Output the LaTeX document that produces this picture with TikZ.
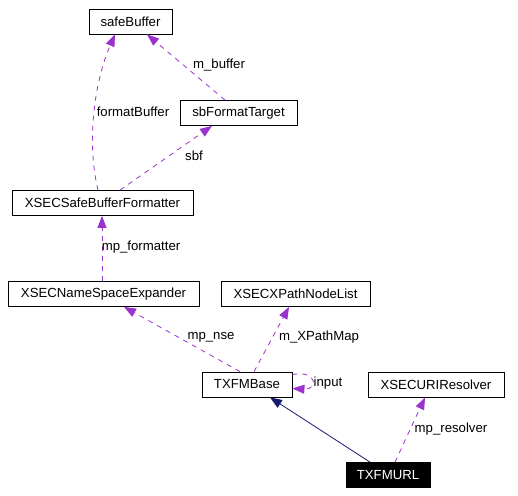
\documentclass[tikz,border=0pt]{standalone}
\usepackage{fontspec}
\setmainfont{Liberation Sans}
\usetikzlibrary{arrows.meta}
\definecolor{P}{RGB}{154, 50, 205}
\definecolor{N}{RGB}{25, 25, 112}

\tikzset{
  clase/.style={draw, line width=0.8pt, inner sep=0pt, minimum height=25pt,
    font=\fontsize{13.2}{15}\selectfont},
  actual/.style={clase, fill=black, text=white},
  uso/.style={draw=P, line width=0.8pt, dash pattern=on 5pt off 5pt,
    -{Triangle[length=12pt, width=9pt, fill=P]}},
  hereda/.style={draw=N, line width=0.8pt,
    -{Triangle[length=12pt, width=9pt, fill=N]}},
  lbl/.style={inner sep=0pt, font=\fontsize{13.2}{15}\selectfont}
}

\begin{document}
\begin{tikzpicture}[x=1pt, y=-1pt]
   	\useasboundingbox (0,0) rectangle (518,495);

	%Clases
   	\node[clase, minimum width=83pt] (safe) at (130.5,21.5) {safeBuffer};
   	\node[clase, minimum width=117pt] (sbft) at (238.5,113) {sbFormatTarget};
   	\node[clase, minimum width=181pt] (sbfmt) at (102.5,203) {XSECSafeBufferFormatter};
   	\node[clase, minimum width=191pt] (nse) at (103.5,294) {XSECNameSpaceExpander};
   	\node[clase, minimum width=149pt] (xpath) at (295.5,294) {XSECXPathNodeList};
   	\node[clase, minimum width=90pt] (base) at (247,384.5) {TXFMBase};
   	\node[clase, minimum width=136pt] (uri) at (436,384.5) {XSECURIResolver};
   	\node[actual, minimum width=84pt] (url) at (388,475) {TXFMURL};

	%Relaciones de uso
   	\draw[uso] ([xshift=-4.5pt]sbfmt.north) .. controls (86,140) and (95,80) .. ([xshift=-15.5pt]safe.south);
   	\draw[uso] ([xshift=-13.5pt]sbft.north) -- ([xshift=16.5pt]safe.south);
   	\draw[uso] ([xshift=17.5pt]sbfmt.north) -- ([xshift=-26.5pt]sbft.south);
   	\draw[uso] ([xshift=-1.5pt]nse.north) -- ([xshift=-0.5pt]sbfmt.south);
   	\draw[uso] ([xshift=-7pt]base.north) -- ([xshift=20.5pt]nse.south);
   	\draw[uso] ([xshift=7pt]base.north) -- ([xshift=-6.5pt]xpath.south);
   	\draw[uso] ([yshift=10pt]base.east) .. controls (318,370) and (318,390) .. ([yshift=-4pt]base.east);
   	\draw[uso] ([xshift=7pt]url.north) -- ([xshift=-11pt]uri.south);

	%Herencia
   	\draw[hereda] ([xshift=-18pt]url.north) -- ([xshift=23pt]base.south);

	%Etiquetas
   	\node[lbl] (lfb) at (133,112) {formatBuffer};
   	\node[lbl] (lmb) at (219,65) {m\_buffer};
   	\node[lbl] (lsbf) at (194,156) {sbf};
   	\node[lbl] (lmpf) at (141,247) {mp\_formatter};
   	\node[lbl] (lnse) at (211,337) {mp\_nse};
   	\node[lbl] (lxpm) at (319,337) {m\_XPathMap};
   	\node[lbl] (lin) at (328,383) {input};
   	\node[lbl] (lres) at (451,429) {mp\_resolver};
\end{tikzpicture}
\end{document}
